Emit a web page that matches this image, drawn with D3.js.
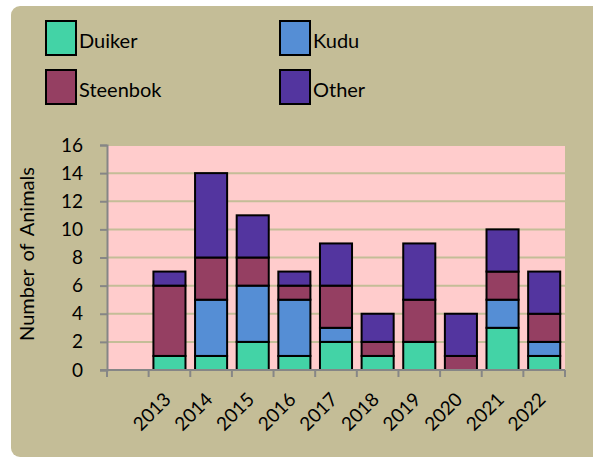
<!DOCTYPE html>
<html>
<head>
<meta charset="utf-8">
<script src="https://cdn.jsdelivr.net/npm/d3@7"></script>
<style>
  body { margin: 0; background: #fff; }
  text { font-family: Lato, "Open Sans", sans-serif; fill: #000; }
</style>
</head>
<body>
<div id="chart"></div>
<script>
// categories (first slot is left blank in the original)
var years = ["", "2013", "2014", "2015", "2016", "2017", "2018", "2019", "2020", "2021", "2022"];
var duiker   = [0, 1, 1, 2, 1, 2, 1, 2, 0, 3, 1];
var kudu     = [0, 0, 4, 4, 4, 1, 0, 0, 0, 2, 1];
var steenbok = [0, 5, 3, 2, 1, 3, 1, 3, 1, 2, 2];
var other    = [0, 1, 6, 3, 1, 3, 2, 4, 3, 3, 3];
var seriesNames = ["Duiker", "Kudu", "Steenbok", "Other"];
var yTicks = [0, 2, 4, 6, 8, 10, 12, 14, 16];

var colors = {
  Duiker: "#43D3A6",
  Kudu: "#558ED5",
  Steenbok: "#953F62",
  Other: "#53359F"
};

var width = 593, height = 459;
var plot = { left: 107, right: 565, top: 145, bottom: 370 };

var svg = d3.select("#chart").append("svg")
  .attr("width", width)
  .attr("height", height);

// outer panel
svg.append("rect")
  .attr("x", 11).attr("y", 6)
  .attr("width", 600).attr("height", 451)
  .attr("rx", 9)
  .attr("fill", "#C4BD97");

var rows = years.map(function(y, i) {
  return { year: y, Duiker: duiker[i], Kudu: kudu[i], Steenbok: steenbok[i], Other: other[i] };
});
var stacked = d3.stack().keys(seriesNames)(rows);

var x = d3.scaleBand()
  .domain(d3.range(years.length))
  .range([plot.left, plot.right])
  .paddingInner(0.23)
  .paddingOuter(0.115);

var xOuter = d3.scaleBand()
  .domain(d3.range(years.length))
  .range([plot.left, plot.right]);

var y = d3.scaleLinear().domain([0, 16]).range([plot.bottom, plot.top]);

// plot area
svg.append("rect")
  .attr("x", plot.left).attr("y", plot.top)
  .attr("width", plot.right - plot.left)
  .attr("height", plot.bottom - plot.top)
  .attr("fill", "#FFCCCC");

// gridlines
svg.append("g")
  .selectAll("line")
  .data(yTicks.filter(function(d) { return d > 0; }))
  .enter()
  .append("line")
  .attr("x1", plot.left).attr("x2", plot.right)
  .attr("y1", function(d) { return y(d); })
  .attr("y2", function(d) { return y(d); })
  .attr("stroke", "#C4BD97")
  .attr("stroke-width", 2);

// bars
svg.append("g")
  .selectAll("g")
  .data(stacked)
  .enter()
  .append("g")
  .attr("fill", function(d) { return colors[d.key]; })
  .selectAll("rect")
  .data(function(d) { return d.map(function(v, i) { return { v: v, i: i }; }); })
  .enter()
  .filter(function(d) { return d.v[1] - d.v[0] > 0; })
  .append("rect")
  .attr("x", function(d) { return x(d.i); })
  .attr("width", x.bandwidth())
  .attr("y", function(d) { return y(d.v[1]); })
  .attr("height", function(d) { return y(d.v[0]) - y(d.v[1]); })
  .attr("stroke", "#000")
  .attr("stroke-width", 2);

// y axis
var yAxis = svg.append("g")
  .attr("transform", "translate(" + plot.left + ",0)")
  .call(d3.axisLeft(y).tickValues(yTicks).tickSize(7).tickPadding(17));
yAxis.select(".domain").attr("stroke", "#868686").attr("stroke-width", 2);
yAxis.selectAll(".tick line").attr("stroke", "#868686").attr("stroke-width", 2);
yAxis.selectAll("text")
  .style("font-family", "Lato, sans-serif")
  .style("font-size", "19px")
  .attr("fill", "#000");

// x axis
var xAxis = svg.append("g")
  .attr("transform", "translate(0," + plot.bottom + ")");
xAxis.append("line")
  .attr("x1", plot.left - 7).attr("x2", plot.right)
  .attr("y1", 0).attr("y2", 0)
  .attr("stroke", "#868686").attr("stroke-width", 2);
xAxis.selectAll("line.tk")
  .data(d3.range(years.length + 1))
  .enter()
  .append("line")
  .attr("class", "tk")
  .attr("x1", function(d) { return plot.left + d * xOuter.step(); })
  .attr("x2", function(d) { return plot.left + d * xOuter.step(); })
  .attr("y1", 0).attr("y2", 7)
  .attr("stroke", "#868686").attr("stroke-width", 2);
xAxis.selectAll("text")
  .data(years)
  .enter()
  .append("text")
  .attr("transform", function(d, i) {
    return "translate(" + (xOuter(i) + xOuter.bandwidth() / 2 - 2) + ",26) rotate(-45)";
  })
  .attr("text-anchor", "end")
  .attr("dy", "0.35em")
  .style("font-size", "19px")
  .text(function(d) { return d; });

// y axis title
svg.append("text")
  .attr("transform", "translate(34,254) rotate(-90)")
  .attr("text-anchor", "middle")
  .style("font-size", "20px")
  .style("word-spacing", "3px")
  .text("Number of Animals");

// legend
var legendPos = [[46, 21], [280, 21], [46, 70], [280, 70]];
var legendOrder = ["Duiker", "Kudu", "Steenbok", "Other"];
var lg = svg.append("g")
  .selectAll("g")
  .data(legendOrder)
  .enter()
  .append("g")
  .attr("transform", function(d, i) { return "translate(" + legendPos[i][0] + "," + legendPos[i][1] + ")"; });
lg.append("rect")
  .attr("width", 30).attr("height", 34)
  .attr("fill", function(d) { return colors[d]; })
  .attr("stroke", "#000")
  .attr("stroke-width", 2);
lg.append("text")
  .attr("x", 33).attr("y", 27)
  .style("font-size", "20px")
  .text(function(d) { return d; });
</script>
</body>
</html>
